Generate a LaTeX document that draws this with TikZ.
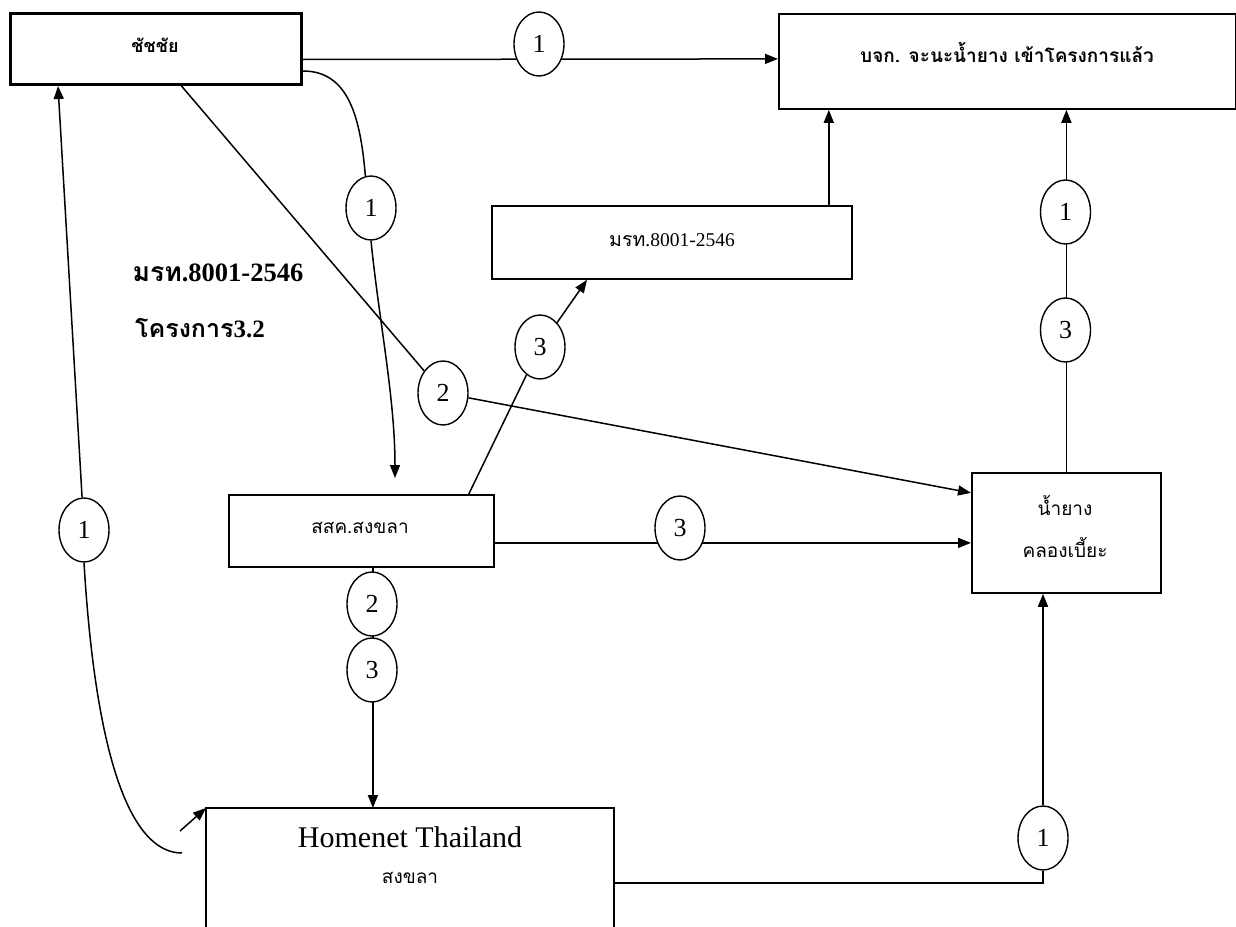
\documentclass[tikz,border=0pt]{standalone}
\usepackage{fontspec}
\setmainfont{Liberation Serif}
\newfontfamily\thai[Script=Thai]{Loma}
\usetikzlibrary{shapes.geometric,arrows.meta,calc}
\begin{document}
\begin{tikzpicture}[x=1pt,y=-1pt,
  box/.style={draw,line width=1.8pt,inner sep=0pt,anchor=north west},
  num/.style={draw,ellipse,fill=white,line width=1.4pt,minimum width=50pt,minimum height=64pt,inner sep=0pt,font=\fontsize{26}{26}\selectfont},
  con/.style={line width=1.5pt},
  arr/.style={con,-{Triangle[length=13pt,width=10pt]}},
  lbl/.style={inner sep=0pt},
  th/.style={lbl,font=\thai\fontsize{19}{19}\selectfont},
]
\useasboundingbox (0,0) rectangle (1236,926);
% boxes
\node[box,line width=3pt,minimum width=291pt,minimum height=71pt] (ch) at (9,12) {};
\node[box,minimum width=457pt,minimum height=95pt] (bj) at (778,13) {};
\node[box,minimum width=360pt,minimum height=73pt] (mr) at (491,205) {};
\node[box,minimum width=265pt,minimum height=72pt] (ss) at (228,494) {};
\node[box,minimum width=189pt,minimum height=120pt] (nk) at (971,472) {};
\node[box,draw=none,minimum width=406pt,minimum height=160pt] (hm) at (206,808) {};
\draw[line width=1.8pt] (hm.south west) -- (hm.north west) -- (hm.north east) -- (hm.south east);
% texts
\node[th,font=\thai\bfseries\fontsize{18}{18}\selectfont] (tch) at (155,45) {ชัชชัย};
\node[th,font=\thai\bfseries\fontsize{19}{19}\selectfont] (tbj) at (1007,52) {บจก. จะนะน้ำยาง เข้าโครงการแล้ว};
\node[lbl,font=\fontsize{19.5}{19.5}\selectfont] (tmr) at (672,240) {{\thai มรท}.8001-2546};
\node[th] (tss) at (360,528) {สสค.สงขลา};
\node[th] (tnk1) at (1065,505) {น้ำยาง};
\node[th] (tnk2) at (1065,547) {คลองเบี้ยะ};
\node[lbl,font=\fontsize{30}{30}\selectfont] (thm1) at (410,837) {Homenet Thailand};
\node[th] (thm2) at (410,878) {สงขลา};
\node[lbl,font=\bfseries\fontsize{26.5}{26.5}\selectfont] (f1) at (218,273) {{\thai มรท}.8001-2546};
\node[lbl,font=\bfseries\fontsize{25}{25}\selectfont] (f2) at (200,328) {{\thai โครงการ}3.2};
% coordinates for free ends
\coordinate (a2) at (395,478);
\coordinate (c8) at (182,853);
\coordinate (c8b) at (180,831);
\coordinate (m9) at ([xshift=-24pt]mr.north east);
\coordinate (pe1) at (539,44);
% ellipses off the straight lines
\node[num] (e2) at (371,208) {1};
\node[num] (e3) at (443,393) {2};
\node[num] (e4) at (540,347) {3};
\node[num] (e8) at (84,530) {1};
\node[num] (e9) at (1043,838) {1};
% connectors
\draw[arr] ([yshift=-10.5pt]ch.east) -- ([yshift=2.5pt]bj.west);
\draw[con] ([yshift=-22pt]ch.east) .. controls +(45,0) and +(-5,-60) .. (e2.100);
\draw[arr] (e2.south) .. controls +(8,80) and +(0,-80) .. (a2);
\draw[con] ([xshift=25.5pt]ch.south) -- (e3);
\draw[arr] (e3) -- ([yshift=40pt]nk.west);
\draw[con] ([xshift=-26pt]ss.north east) -- (e4);
\draw[arr] (e4) -- ([xshift=96pt]mr.south west);
\draw[arr] ([yshift=-12pt]ss.east) -- ([yshift=-10pt]nk.west);
\draw[arr] ([xshift=11.5pt]ss.south) -- ([xshift=-37pt]hm.north);
\draw[arr] (e8) -- ([xshift=49pt]ch.south west);
\draw[con] (e8.south) .. controls +(12,200) and +(-50,0) .. (c8);
\draw[arr] (c8b) -- (hm.north west);
\draw[con] ([yshift=6pt]hm.east) -| (e9.south);
\draw[arr] (e9.north) -- (e9.north |- nk.south);
\draw[arr] (m9) -- (m9 |- bj.south);
\draw[arr] (nk.north) -- (nk.north |- bj.south);
% ellipses on lines
\node[num] (e1) at (pe1) {1};
\node[num] (e5) at (680,528) {3};
\node[num] (e6) at (372,604) {2};
\node[num] (e7) at (372,670) {3};
\node[num] (e10) at (1065.5,212) {1};
\node[num] (e11) at (1065.5,330) {3};
\end{tikzpicture}
\end{document}
